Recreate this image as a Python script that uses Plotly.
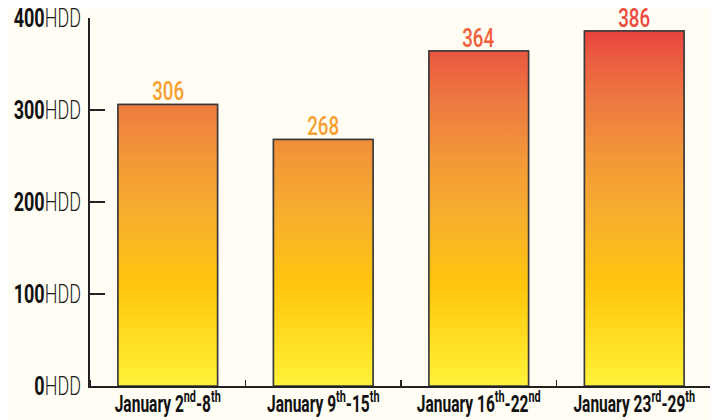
import plotly.graph_objects as go

categories = ["January 2<sup>nd</sup>-8<sup>th</sup>",
              "January 9<sup>th</sup>-15<sup>th</sup>",
              "January 16<sup>th</sup>-22<sup>nd</sup>",
              "January 23<sup>rd</sup>-29<sup>th</sup>"]
values = [306, 268, 364, 386]
label_colors = ["#f7a030", "#f7a030", "#f2603a", "#ee4a40"]
y_ticks = [0, 100, 200, 300, 400]
y_tick_labels = ["<b>%d</b><span style='color:#1a1a1a;font-weight:300'>HDD</span>" % v
                 for v in y_ticks]

FONT = "Roboto, Liberation Sans, sans-serif"
BG = "#fffdf4"
gradient = [[0.0, "#fff33b"], [0.08, "#ffe52a"], [0.27, "#ffc60c"],
            [0.45, "#f8b02c"], [0.62, "#f29838"], [0.77, "#ee7a40"],
            [0.9, "#ea5a40"], [0.97, "#e8403f"], [1.0, "#e83c3c"]]

half = 0.32
positions = list(range(len(values)))

fig = go.Figure()
fig.add_trace(go.Bar(
    x=positions, y=values, width=2 * half,
    marker=dict(color="rgba(0,0,0,0)", line=dict(color="#3a3a3a", width=1.5)),
    showlegend=False, hoverinfo="skip"))

for p, v in zip(positions, values):
    fig.add_trace(go.Scatter(
        x=[p - half, p + half, p + half, p - half, p - half],
        y=[0, 0, v, v, 0],
        mode="lines", fill="toself",
        fillgradient=dict(type="vertical", colorscale=gradient, start=0, stop=400),
        line=dict(color="#3a3a3a", width=1.5),
        showlegend=False, hoverinfo="skip"))

for p, v, c in zip(positions, values, label_colors):
    fig.add_annotation(x=p, y=v, text=str(v), showarrow=False,
                       xanchor="center", yanchor="bottom", yshift=-4,
                       font=dict(family=FONT, size=26, weight=500, color=c))

fig.update_layout(
    width=718, height=420,
    margin=dict(l=82, r=14, t=10, b=42),
    paper_bgcolor=BG, plot_bgcolor=BG,
    font=dict(family=FONT, color="#111111"),
    xaxis=dict(range=[-0.5, 3.5], tickvals=positions, ticktext=["<b>%s</b>" % c for c in categories],
               ticks="", showgrid=False, zeroline=False, tickangle=0, automargin=False,
               showline=True, linecolor="#222222", linewidth=2,
               tickfont=dict(family=FONT, size=23, color="#111111"),
               ticklabelstandoff=-4,
               minor=dict(tickvals=[-0.5, 0.5, 1.5, 2.5, 3.5], ticks="inside", ticklen=6,
                          tickwidth=1.5, tickcolor="#222222", showgrid=False),
               fixedrange=True),
    yaxis=dict(range=[0, 400], tickvals=y_ticks, ticktext=y_tick_labels, automargin=False,
               ticks="inside", ticklen=15, tickwidth=1.5, tickcolor="#222222",
               showgrid=False, zeroline=False, ticklabeloverflow="allow",
               showline=True, linecolor="#222222", linewidth=2,
               tickfont=dict(family=FONT, size=25, color="#111111"),
               ticklabelstandoff=2, fixedrange=True),
)

# Condense the glyphs (no condensed face is installed) while keeping real text.
squeeze_js = """
var gd = document.getElementById('{plot_id}');
gd.querySelectorAll('svg text').forEach(function(t){
  var w = t.getComputedTextLength();
  if (!w) return;
  var f = t.closest('.xtick') ? 0.675 : 0.72;
  t.setAttribute('textLength', (w * f).toFixed(2));
  t.setAttribute('lengthAdjust', 'spacingAndGlyphs');
});
"""

fig.write_html("out.html", post_script=squeeze_js, config={"staticPlot": True})
